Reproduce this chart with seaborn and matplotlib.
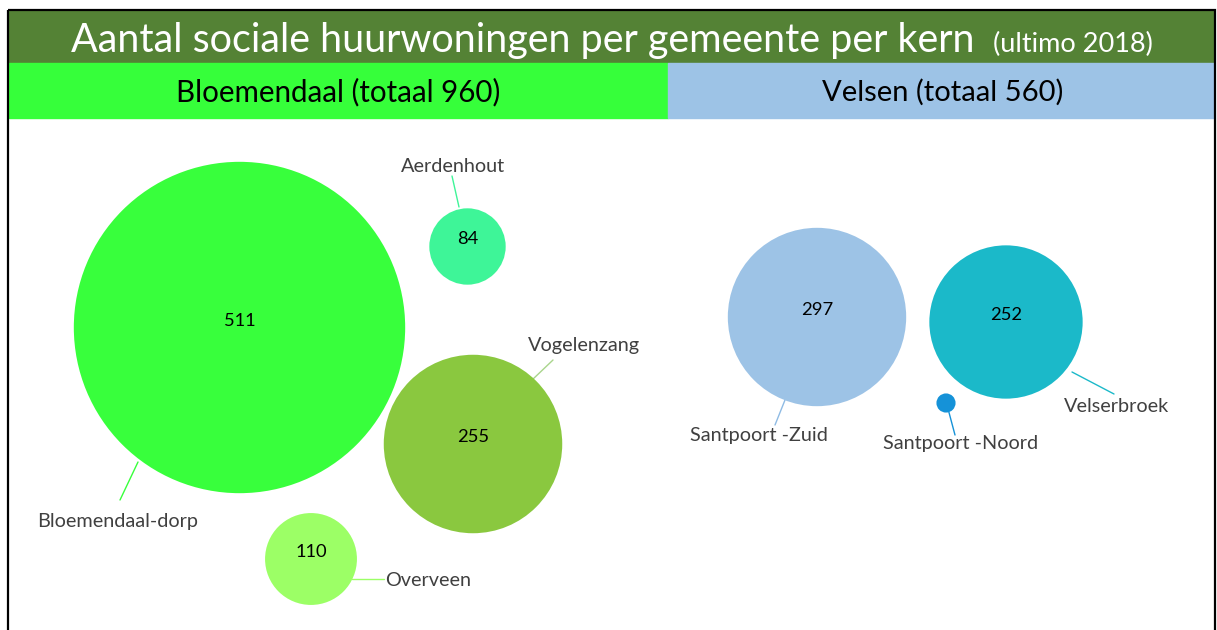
import numpy as np
import pandas as pd
import matplotlib
matplotlib.use('Agg')
import matplotlib.pyplot as plt
from matplotlib.patches import Rectangle
import seaborn as sns

# data
kernen = ['Bloemendaal-dorp', 'Aerdenhout', 'Vogelenzang', 'Overveen',
          'Santpoort -Zuid', 'Velserbroek', 'Santpoort -Noord']
gemeente = ['Bloemendaal', 'Bloemendaal', 'Bloemendaal', 'Bloemendaal',
            'Velsen', 'Velsen', 'Velsen']
aantal = [511, 84, 255, 110, 297, 252, 11]
# bubble chart x / y values (chart units)
bubble_x = [239.5, 467.5, 473, 311, 817, 1006, 946]
bubble_y = [327.5, 246.5, 444, 559, 317, 322, 403]

gemeenten = ['Bloemendaal', 'Velsen']
totalen = [960, 560]

title = 'Aantal sociale huurwoningen per gemeente per kern'
subtitle = '(ultimo 2018)'

kleuren = {'Bloemendaal-dorp': '#38ff3c', 'Aerdenhout': '#3ef598',
           'Vogelenzang': '#8ac83f', 'Overveen': '#9cff66',
           'Santpoort -Zuid': '#9dc3e6', 'Velserbroek': '#1bb9c9',
           'Santpoort -Noord': '#1592d8'}
lijn_kleuren = {'Bloemendaal-dorp': '#38ff3c', 'Aerdenhout': '#3ef598',
                'Vogelenzang': '#a9d58c', 'Overveen': '#9cff66',
                'Santpoort -Zuid': '#8fbbe4', 'Velserbroek': '#1bb9c9',
                'Santpoort -Noord': '#1592d8'}

# label layout: text position, leader line start/end
label_pos = {'Bloemendaal-dorp': (117.5, 521, 'center'),
             'Aerdenhout': (453, 167, 'center'),
             'Vogelenzang': (584.5, 346, 'center'),
             'Overveen': (385, 580, 'left'),
             'Santpoort -Zuid': (758.5, 436, 'center'),
             'Velserbroek': (1117, 407, 'center'),
             'Santpoort -Noord': (961, 444, 'center')}
leaders = {'Bloemendaal-dorp': ((120, 500), (138, 462)),
           'Aerdenhout': ((452, 176), (459, 207)),
           'Vogelenzang': ((553, 360), (532, 380)),
           'Overveen': ((352, 579), (384, 579)),
           'Santpoort -Zuid': ((775, 425), (785, 400)),
           'Velserbroek': ((1072, 372), (1114, 394)),
           'Santpoort -Noord': ((947, 405), (955, 435))}

# radius scale per gemeente (px = a + b * aantal)
schaal = {'Bloemendaal': (13.1, 0.2986), 'Velsen': (6.5, 0.2784)}

df = pd.DataFrame({'kern': kernen, 'gemeente': gemeente, 'aantal': aantal,
                   'x': bubble_x, 'y': bubble_y})
df['r'] = [schaal[g][0] + schaal[g][1] * v for g, v in zip(df.gemeente, df.aantal)]
DPI = 100
sizes = {k: (2 * r * 72 / DPI) ** 2 for k, r in zip(df.kern, df.r)}

sns.set_style('white')
plt.rcParams['font.family'] = ['Lato', 'DejaVu Sans']

fig = plt.figure(figsize=(12.17, 6.30), dpi=DPI)
ax = fig.add_axes([0, 0, 1, 1])
ax.set_xlim(0, 1217)
ax.set_ylim(630, 0)
ax.axis('off')
renderer = fig.canvas.get_renderer()


def fit(txt, width):
    w = txt.get_window_extent(renderer).width
    txt.set_fontsize(txt.get_fontsize() * width / w)
    return txt.get_fontsize()


# header bars
ax.add_patch(Rectangle((9, 11), 1205, 52, color='#548235', zorder=1))
ax.add_patch(Rectangle((9, 63), 659, 54.5, color='#36ff3a', zorder=1))
ax.add_patch(Rectangle((668, 63), 546, 54.5, color='#9dc3e6', zorder=1))
ax.add_patch(Rectangle((8, 10), 1207, 640, fill=False, edgecolor='black',
                       linewidth=1.6, zorder=5, clip_on=False))

t = ax.text(71, 52, title, color='white', fontsize=20, va='baseline', ha='left', zorder=3)
fit(t, 909)
t = ax.text(993, 52, subtitle, color='white', fontsize=12, va='baseline', ha='left', zorder=3)
fit(t, 159)

for g, tot, cx, w in zip(gemeenten, totalen, [338.5, 943], [325, 242]):
    t = ax.text(cx, 101, f'{g} (totaal {tot})', color='black', fontsize=16,
                va='baseline', ha='center', zorder=3)
    fit(t, w)

# bubbles
sns.scatterplot(data=df, x='x', y='y', hue='kern', palette=kleuren,
                size='kern', sizes=sizes, linewidth=0, legend=False,
                ax=ax, zorder=2)
ax.set_xlim(0, 1217)
ax.set_ylim(630, 0)
ax.axis('off')

# value labels
vfs = None
for _, row in df.iterrows():
    if row.r < 20:
        continue
    t = ax.text(row.x, row.y - 7, str(row.aantal), color='black', fontsize=11,
                ha='center', va='center', zorder=4)
    if vfs is None:
        vfs = fit(t, 32)
    t.set_fontsize(vfs)

# category labels with leader lines
cfs = None
for k in kernen:
    x, y, ha = label_pos[k]
    t = ax.text(x, y, k, color='#404040', fontsize=11, ha=ha, va='center', zorder=4)
    if cfs is None:
        cfs = fit(t, 161)
    t.set_fontsize(cfs)
    (x0, y0), (x1, y1) = leaders[k]
    ax.plot([x0, x1], [y0, y1], color=lijn_kleuren[k], linewidth=1.0, zorder=1.5)

fig.savefig('out.png', dpi=DPI, facecolor='white')
